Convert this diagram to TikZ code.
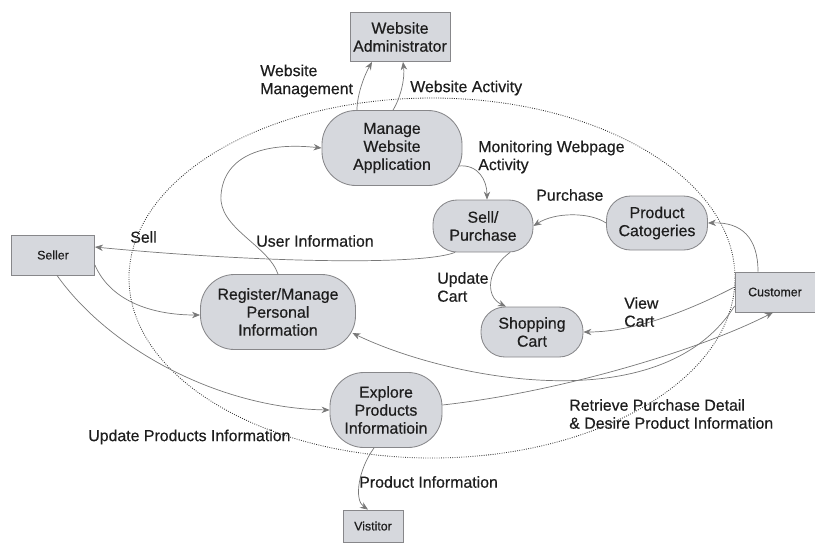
\documentclass[tikz,border=0pt]{standalone}
\usepackage{fontspec}
\setmainfont{Liberation Sans}[FakeBold=0.5]
\usepackage{tikz}
\usetikzlibrary{arrows.meta,calc}
\definecolor{dfdfill}{RGB}{214,216,221}
\definecolor{dfdline}{RGB}{135,135,138}
\definecolor{dfdflow}{RGB}{120,120,120}
\definecolor{dfdtext}{RGB}{30,30,30}

\begin{document}
\begin{tikzpicture}[
  x=0.25mm, y=-0.25mm,
  every node/.style={font=\fontsize{11.3}{12.8}\selectfont, text=dfdtext},
  procbox/.style={draw=dfdline, fill=dfdfill, line width=0.6pt, rounded corners=8.5mm,
                  align=center, inner sep=0pt},
  entbox/.style={draw=dfdline, fill=dfdfill, line width=0.6pt, align=center, inner sep=0pt},
  smallent/.style={entbox, font=\fontsize{8.8}{10.5}\selectfont},
  flow/.style={draw=dfdflow, line width=0.5pt, -{Stealth[length=2mm,width=1.6mm]}},
  flowlbl/.style={anchor=west, align=left, inner sep=0pt},
  boundary/.style={draw=black!80, line width=0.6pt, densely dotted},
]
\useasboundingbox (0,0) rectangle (815,542);

%% System boundary
\draw[boundary] (432,278) ellipse [x radius=303, y radius=180];

%% External entities
\node[entbox, minimum width=25mm, minimum height=12.25mm] (admin) at (400,37) {Website\\Administrator};
\node[smallent, minimum width=20.75mm, minimum height=10mm] (seller) at (53,255) {Seller};
\node[smallent, minimum width=20mm, minimum height=10mm] (cust) at (775,292) {Customer};
\node[smallent, minimum width=15mm, minimum height=8mm] (visitor) at (373,526) {Vistitor};

%% Processes
\node[procbox, minimum width=35mm, minimum height=18.75mm] (mwa) at (392,148) {Manage\\Website\\Application};
\node[procbox, rounded corners=6mm, minimum width=25mm, minimum height=13mm] (sp) at (483,226) {Sell/\\Purchase};
\node[procbox, rounded corners=6mm, minimum width=25.25mm, minimum height=13.5mm] (pc) at (657,223) {Product\\Catogeries};
\node[procbox, minimum width=38.75mm, minimum height=18.75mm] (reg) at (278,312) {Register/Manage\\Personal\\Information};
\node[procbox, rounded corners=6mm, minimum width=25.5mm, minimum height=12.5mm] (cart) at (532,332) {Shopping\\Cart};
\node[procbox, minimum width=28mm, minimum height=18.75mm] (epi) at (386,410) {Explore\\Products\\Informatioin};

%% Flows to the administrator
\draw[flow] ([shift={(-35,0)}]mwa.north) .. controls (357,95) and (364,76) .. ([shift={(-28,0)}]admin.south);
\draw[flow] ([shift={(1,0)}]mwa.north) .. controls (401,97) and (405,78) .. ([shift={(3,0)}]admin.south);

%% Flows inside the system
\draw[flow] ([shift={(-4,18)}]mwa.east) .. controls (478,164) and (487,180) .. ([shift={(4,0)}]sp.north);
\draw[flow] (pc.west) .. controls (590,212) and (555,212) .. (sp.east);
\draw[flow] (reg.north) .. controls (268,245) and (218,228) .. (221,195)
  .. controls (224,155) and (265,142) .. (mwa.west);
\draw[flow] ([shift={(27,0)}]sp.south) .. controls (488,268) and (484,296) .. ([shift={(-26,0)}]cart.north);

%% Seller
\draw[flow] ([shift={(-28,0)}]sp.south) .. controls (420,266) and (250,262) .. ([shift={(0,-8)}]seller.east);
\draw[flow] ([shift={(0,10)}]seller.east) .. controls (110,300) and (150,315) .. ([shift={(0,3)}]reg.west);
\draw[flow] ([shift={(4,0)}]seller.south) .. controls (110,350) and (220,408) .. (epi.west);

%% Customer
\draw[flow] ([shift={(0,-5)}]cust.west) .. controls (700,305) and (640,332) .. (cart.east);
\draw[flow] ([shift={(-17,0)}]cust.north) .. controls (758,238) and (742,222) .. (pc.east);
\draw[flow] ([shift={(0,14)}]cust.west) .. controls (660,424) and (443,377) .. ([shift={(-3.5,21)}]reg.east);
\draw[flow] ([shift={(0,-5)}]epi.east) .. controls (560,392) and (700,350) .. ([shift={(-2,0)}]cust.south);

%% Visitor
\draw[flow] ([shift={(-12,0)}]epi.south) .. controls (358,470) and (354,500) .. ([shift={(-5,0)}]visitor.north);

%% Flow labels
\node[flowlbl] (lwm) at (260,81) {Website\\Management};
\node[flowlbl] (lwa) at (410,88) {Website Activity};
\node[flowlbl] (lmon) at (478,157) {Monitoring Webpage\\Activity};
\node[flowlbl] (lpur) at (536,195) {Purchase};
\node[flowlbl] (lsell) at (130,237) {Sell};
\node[flowlbl] (luser) at (256,241) {User Information};
\node[flowlbl] (lupc) at (437,287) {Update\\Cart};
\node[flowlbl] (lview) at (624,312) {View\\Cart};
\node[flowlbl] (lupi) at (88,437) {Update Products Information};
\node[flowlbl] (lret) at (569,414) {Retrieve Purchase Detail\\\& Desire Product Information};
\node[flowlbl] (lpi) at (359,482) {Product Information};

\end{tikzpicture}
\end{document}
